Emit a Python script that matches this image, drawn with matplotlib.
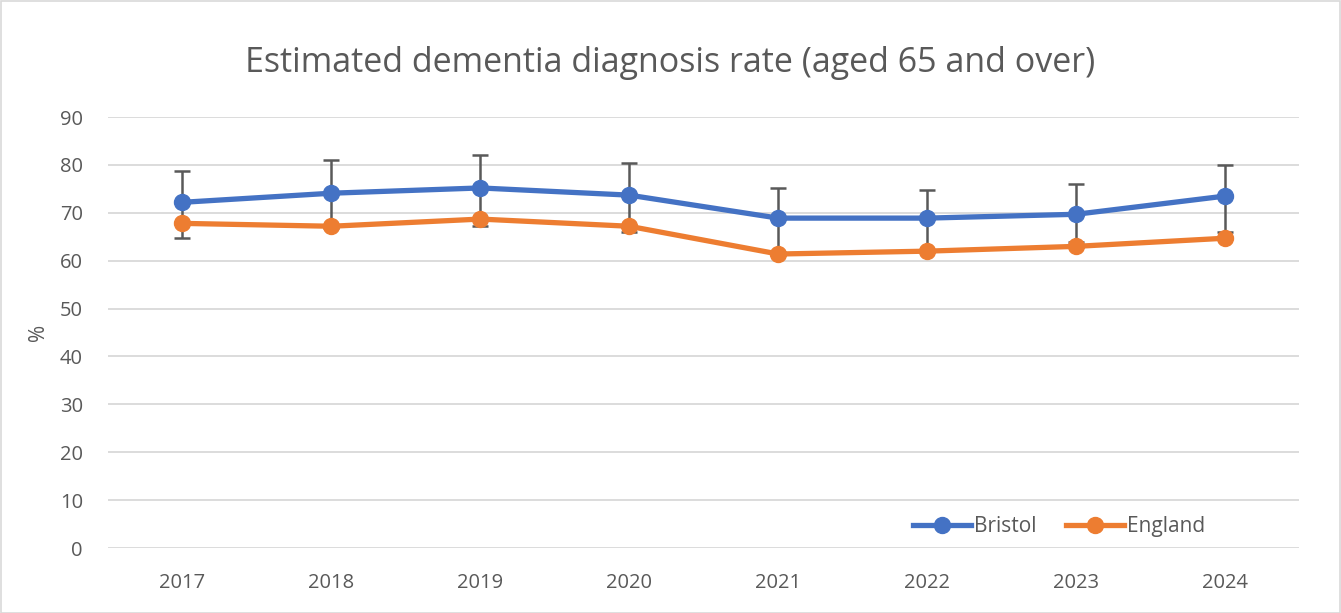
import matplotlib.pyplot as plt
import numpy as np

plt.rcParams['font.family'] = ['Open Sans', 'DejaVu Sans']

years = ['2017', '2018', '2019', '2020', '2021', '2022', '2023', '2024']
bristol = [72.2, 74.1, 75.2, 73.7, 68.9, 68.9, 69.7, 73.5]
england = [67.8, 67.2, 68.7, 67.2, 61.4, 62.0, 63.0, 64.7]
# confidence interval bounds for Bristol
bristol_low = [64.7, 66.8, 67.2, 66.0, 61.9, 62.2, 63.9, 66.0]
bristol_high = [78.8, 81.0, 82.0, 80.4, 75.1, 74.8, 76.1, 80.0]

blue = '#4472C4'
orange = '#ED7D31'
text_col = '#595959'

fig = plt.figure(figsize=(13.41, 6.13), dpi=100)
ax = fig.add_axes([0.0805, 0.106, 0.8885, 0.703])

x = np.arange(len(years))
yerr = [np.array(bristol) - np.array(bristol_low),
        np.array(bristol_high) - np.array(bristol)]

ax.errorbar(x, bristol, yerr=yerr, fmt='none', ecolor=text_col,
            elinewidth=1.8, capsize=6, capthick=1.8, zorder=2)
ax.plot(x, bristol, color=blue, lw=3.8, marker='o', ms=11.5, label='Bristol', zorder=3)
ax.plot(x, england, color=orange, lw=3.8, marker='o', ms=11.5, label='England', zorder=4)

ax.set_xlim(-0.5, len(years) - 0.5)
ax.set_ylim(0, 90)
ax.set_yticks(range(0, 91, 10))
ax.set_xticks(x)
ax.set_xticklabels(years)
ax.grid(axis='y', color='#D9D9D9', lw=1.3)
ax.set_axisbelow(True)
for s in ax.spines.values():
    s.set_visible(False)
ax.tick_params(length=0, colors=text_col, labelsize=14.5)
ax.tick_params(axis='x', pad=18)
ax.tick_params(axis='y', pad=18)

ax.set_ylabel('%', color=text_col, fontsize=15, labelpad=8)
fig.suptitle('Estimated dementia diagnosis rate (aged 65 and over)',
             y=0.925, fontsize=24.5, color=text_col)

ax.legend(loc='lower right', bbox_to_anchor=(0.937, -0.018), ncol=2, frameon=False,
          fontsize=15, labelcolor=text_col, handlelength=2.8, columnspacing=1.4,
          handletextpad=0.15)

# chart area border
fig.patches.append(plt.Rectangle((0.001, 0.0), 0.998, 0.998, transform=fig.transFigure,
                                 fill=False, edgecolor='#D9D9D9', lw=1.2))

fig.savefig('out.png', dpi=100)
